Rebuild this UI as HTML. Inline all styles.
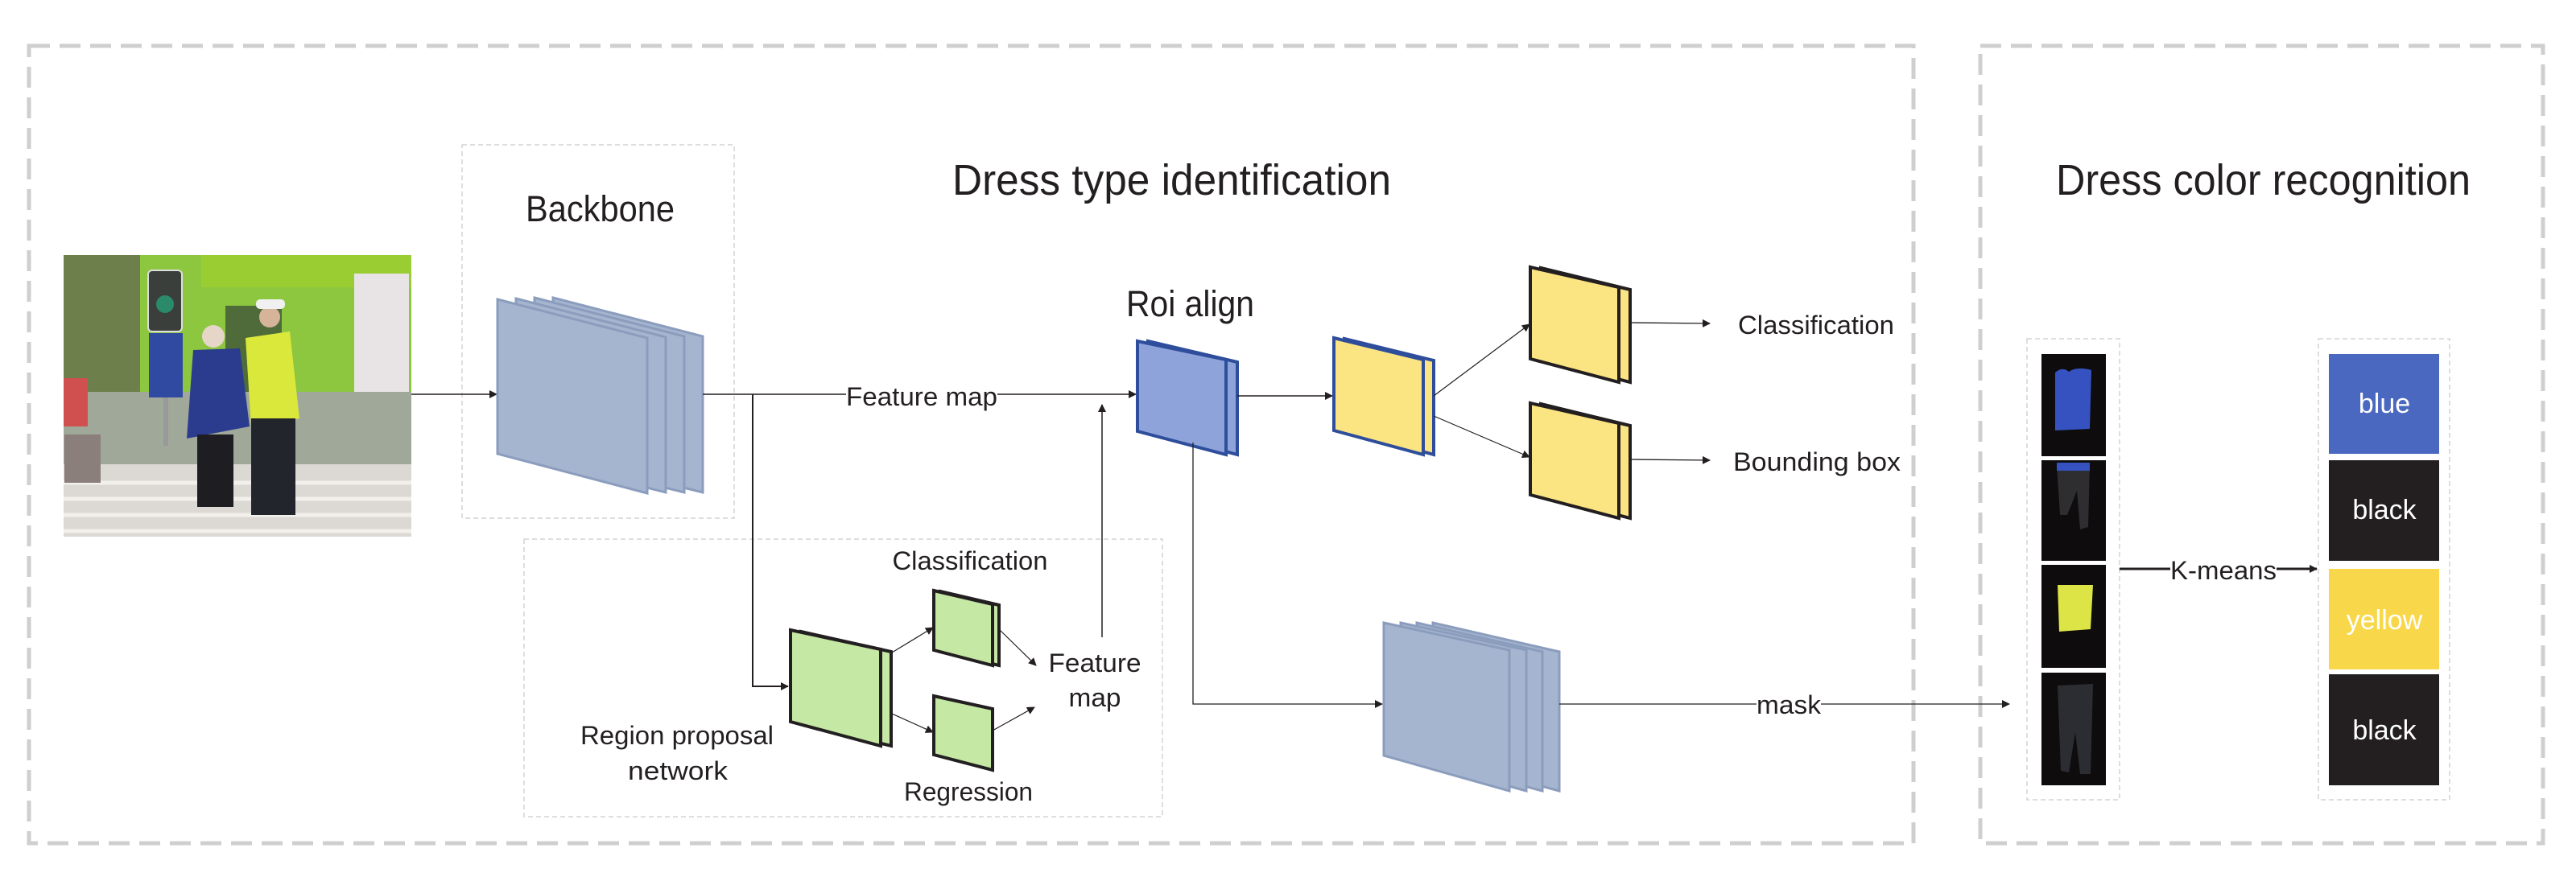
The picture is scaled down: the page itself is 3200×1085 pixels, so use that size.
<!DOCTYPE html>
<html><head><meta charset="utf-8"><style>
html,body{margin:0;padding:0;background:#fff;}
svg{display:block;}
text{font-family:"Liberation Sans Narrow","Liberation Sans",sans-serif;fill:#231f20;}
</style></head><body>
<svg width="3200" height="1085" viewBox="0 0 3200 1085" xmlns="http://www.w3.org/2000/svg">
<defs>
<marker id="ah" markerWidth="10" markerHeight="10" refX="9" refY="5" orient="auto" markerUnits="userSpaceOnUse" viewBox="0 0 10 10">
<path d="M0,0 L10,5 L0,10 z" fill="#231f20"/></marker>
</defs>
<rect x="0" y="0" width="3200" height="1085" fill="#fff"/>
<!-- outer dashed boxes -->
<rect x="36" y="57" width="2341" height="991" fill="none" stroke="#cfcfcf" stroke-width="5" stroke-dasharray="26,12"/>
<rect x="2460" y="57" width="699" height="991" fill="none" stroke="#cfcfcf" stroke-width="5" stroke-dasharray="26,12"/>
<!-- inner thin dashed -->
<rect x="574" y="180" width="338" height="464" fill="none" stroke="#d4d4d4" stroke-width="1.5" stroke-dasharray="6,4"/>
<rect x="651" y="670" width="793" height="345" fill="none" stroke="#d4d4d4" stroke-width="1.5" stroke-dasharray="6,4"/>
<rect x="2518" y="421" width="115" height="573" fill="none" stroke="#d4d4d4" stroke-width="1.5" stroke-dasharray="6,4"/>
<rect x="2880" y="421" width="163" height="573" fill="none" stroke="#d4d4d4" stroke-width="1.5" stroke-dasharray="6,4"/>

<!-- titles -->
<text x="1183" y="242" font-size="54" textLength="545" lengthAdjust="spacingAndGlyphs">Dress type identification</text>
<text x="2554" y="242" font-size="54" textLength="515" lengthAdjust="spacingAndGlyphs">Dress color recognition</text>
<text x="653" y="275" font-size="45" textLength="185" lengthAdjust="spacingAndGlyphs">Backbone</text>
<text x="1399" y="393" font-size="45" textLength="159" lengthAdjust="spacingAndGlyphs">Roi align</text>

<!-- photo -->
<g>
<rect x="79" y="317" width="432" height="350" fill="#c9c3b8"/>
<rect x="79" y="317" width="432" height="170" fill="#8dc63f"/>
<rect x="79" y="317" width="95" height="290" fill="#6d7f4a"/>
<rect x="250" y="317" width="261" height="40" fill="#9acd32"/>
<rect x="440" y="340" width="68" height="180" fill="#e8e4e6"/>
<rect x="280" y="380" width="70" height="130" fill="#4f6b3a"/>
<rect x="79" y="487" width="432" height="90" fill="#a0a89a"/>
<rect x="79" y="577" width="432" height="90" fill="#dcd9d4"/>
<g stroke="#f2f0ec" stroke-width="5"><line x1="79" y1="600" x2="511" y2="600"/><line x1="79" y1="620" x2="511" y2="620"/><line x1="79" y1="640" x2="511" y2="640"/><line x1="79" y1="660" x2="511" y2="660"/></g>
<rect x="184" y="336" width="42" height="76" rx="5" fill="#3a3f3c" stroke="#ddd" stroke-width="2"/>
<circle cx="205" cy="378" r="11" fill="#2a8a6a"/>
<rect x="185" y="414" width="42" height="80" fill="#2f4aa0"/>
<rect x="203" y="494" width="6" height="60" fill="#999"/>
<path d="M240,435 L298,433 L310,530 L232,545 Z" fill="#2b3c8f"/>
<rect x="245" y="540" width="45" height="90" fill="#1e1e22"/>
<circle cx="265" cy="418" r="14" fill="#e6d6c8"/>
<path d="M305,420 L360,412 L372,520 L312,530 Z" fill="#d9e83a"/>
<rect x="312" y="520" width="55" height="120" fill="#23252c"/>
<circle cx="335" cy="394" r="13" fill="#d6b49a"/>
<rect x="318" y="372" width="36" height="12" rx="5" fill="#f0f0f0"/>
<rect x="79" y="470" width="30" height="60" fill="#d05050"/>
<rect x="80" y="540" width="45" height="60" fill="#8a7f7a"/>
</g>
<line x1="511" y1="490" x2="617" y2="490" stroke="#231f20" stroke-width="1.5" marker-end="url(#ah)"/>

<!-- backbone stack -->
<g fill="#a6b5cf" stroke="#8b9dbd" stroke-width="3">
<polygon points="687,370 873,418 873,612 687,566"/>
<polygon points="664,370 850,418 850,612 664,566"/>
<polygon points="641,371 827,419 827,612 641,565"/>
<polygon points="618,372 804,420 804,613 618,564"/>
</g>
<line x1="873" y1="490" x2="1411" y2="490" stroke="#231f20" stroke-width="1.5" marker-end="url(#ah)"/>
<rect x="1051" y="475" width="188" height="30" fill="#fff"/>
<text x="1051" y="504" font-size="32" textLength="188" lengthAdjust="spacingAndGlyphs">Feature map</text>
<polyline points="935,490 935,853 979,853" fill="none" stroke="#231f20" stroke-width="2" marker-end="url(#ah)"/>

<!-- RPN -->
<g fill="#c5e8a5" stroke="#231f20" stroke-width="4">
<polygon points="995,785 1107,810 1107,927 995,900"/>
<polygon points="982,783 1094,807 1094,927 982,897"/>
<polygon points="1168,735 1241,752 1241,827 1168,810"/>
<polygon points="1160,734 1233,751 1233,827 1160,808"/>
<polygon points="1160,865 1233,881 1233,957 1160,938"/>
</g>
<g stroke="#231f20" stroke-width="1.2" marker-end="url(#ah)">
<line x1="1108" y1="811" x2="1159" y2="780"/>
<line x1="1108" y1="887" x2="1159" y2="910"/>
<line x1="1241" y1="782" x2="1287" y2="827"/>
<line x1="1233" y1="908" x2="1285" y2="879"/>
</g>
<text x="1205" y="708" font-size="32" text-anchor="middle" textLength="193" lengthAdjust="spacingAndGlyphs">Classification</text>
<text x="1203" y="995" font-size="32" text-anchor="middle" textLength="160" lengthAdjust="spacingAndGlyphs">Regression</text>
<text x="1360" y="835" font-size="32" text-anchor="middle" textLength="115" lengthAdjust="spacingAndGlyphs">Feature</text>
<text x="1360" y="878" font-size="32" text-anchor="middle" textLength="65" lengthAdjust="spacingAndGlyphs">map</text>
<text x="841" y="925" font-size="32" text-anchor="middle" textLength="240" lengthAdjust="spacingAndGlyphs">Region proposal</text>
<text x="842" y="969" font-size="32" text-anchor="middle" textLength="124" lengthAdjust="spacingAndGlyphs">network</text>
<line x1="1369" y1="792" x2="1369" y2="503" stroke="#231f20" stroke-width="1.5" marker-end="url(#ah)"/>

<!-- Roi -->
<g fill="#8fa3db" stroke="#2e4d9b" stroke-width="4">
<polygon points="1426,424 1537,450 1537,565 1426,536"/>
<polygon points="1413,424 1523,447 1523,565 1413,536"/>
</g>
<line x1="1537" y1="492" x2="1655" y2="492" stroke="#231f20" stroke-width="1.5" marker-end="url(#ah)"/>
<polyline points="1482,550 1482,875 1717,875" fill="none" stroke="#231f20" stroke-width="1.3" marker-end="url(#ah)"/>

<!-- yellow -->
<g fill="#fbe482" stroke="#2e4d9b" stroke-width="4">
<polygon points="1670,421 1781,448 1781,565 1670,535"/>
<polygon points="1657,420 1768,447 1768,565 1657,535"/>
</g>
<g stroke="#231f20" stroke-width="1.2" marker-end="url(#ah)">
<line x1="1781" y1="492" x2="1900" y2="403"/>
<line x1="1781" y1="517" x2="1900" y2="568"/>
</g>
<g fill="#fbe482" stroke="#231f20" stroke-width="4">
<polygon points="1914,333 2025,360 2025,475 1914,446"/>
<polygon points="1901,332 2011,357 2011,475 1901,446"/>
<polygon points="1914,502 2025,529 2025,644 1914,615"/>
<polygon points="1901,501 2011,526 2011,644 1901,615"/>
</g>
<line x1="2025" y1="401" x2="2124" y2="402" stroke="#231f20" stroke-width="1.3" marker-end="url(#ah)"/>
<line x1="2025" y1="571" x2="2124" y2="572" stroke="#231f20" stroke-width="1.3" marker-end="url(#ah)"/>
<text x="2159" y="415" font-size="32" textLength="194" lengthAdjust="spacingAndGlyphs">Classification</text>
<text x="2153" y="585" font-size="32" textLength="208" lengthAdjust="spacingAndGlyphs">Bounding box</text>

<!-- mask stack -->
<g fill="#a6b5cf" stroke="#8b9dbd" stroke-width="3">
<polygon points="1780,774 1937,810 1937,983 1780,941"/>
<polygon points="1760,774 1916,810 1916,983 1760,941"/>
<polygon points="1740,774 1896,808 1896,983 1740,940"/>
<polygon points="1719,774 1875,808 1875,983 1719,939"/>
</g>
<line x1="1937" y1="875" x2="2496" y2="875" stroke="#231f20" stroke-width="1.3" marker-end="url(#ah)"/>
<rect x="2182" y="860" width="80" height="30" fill="#fff"/>
<text x="2182" y="887" font-size="32" textLength="80" lengthAdjust="spacingAndGlyphs">mask</text>

<!-- clothes -->
<rect x="2536" y="440" width="80" height="127" fill="#0e0c0c"/>
<rect x="2536" y="572" width="80" height="125" fill="#0e0c0c"/>
<rect x="2536" y="702" width="80" height="128" fill="#0e0c0c"/>
<rect x="2536" y="836" width="80" height="140" fill="#0e0c0c"/>
<path d="M2553,463 Q2562,455 2570,462 Q2580,455 2598,460 L2596,533 L2553,535 Z" fill="#3552c0"/>
<path d="M2555,578 L2596,577 L2594,655 L2584,658 L2580,610 L2568,640 L2559,640 Z" fill="#2e2e30"/>
<rect x="2555" y="575" width="41" height="10" fill="#3552c0"/>
<path d="M2556,727 L2600,727 L2597,782 L2558,785 Z" fill="#dce545"/>
<path d="M2556,852 L2600,850 L2597,962 L2584,962 L2578,910 L2570,960 L2560,958 Z" fill="#2c2d33"/>

<line x1="2633" y1="707" x2="2878" y2="707" stroke="#231f20" stroke-width="3" marker-end="url(#ah)"/>
<rect x="2696" y="692" width="132" height="32" fill="#fff"/>
<text x="2696" y="720" font-size="32" textLength="132" lengthAdjust="spacingAndGlyphs">K-means</text>

<!-- colors -->
<rect x="2893" y="440" width="137" height="124" fill="#4a68bf"/>
<rect x="2893" y="572" width="137" height="125" fill="#231f20"/>
<rect x="2893" y="707" width="137" height="125" fill="#f8d84a"/>
<rect x="2893" y="838" width="137" height="138" fill="#231f20"/>
<g font-size="34" text-anchor="middle">
<text x="2962" y="513" style="fill:#fff">blue</text>
<text x="2962" y="645" style="fill:#fff">black</text>
<text x="2962" y="782" style="fill:#fff">yellow</text>
<text x="2962" y="919" style="fill:#fff">black</text>
</g>
</svg>
</body></html>
